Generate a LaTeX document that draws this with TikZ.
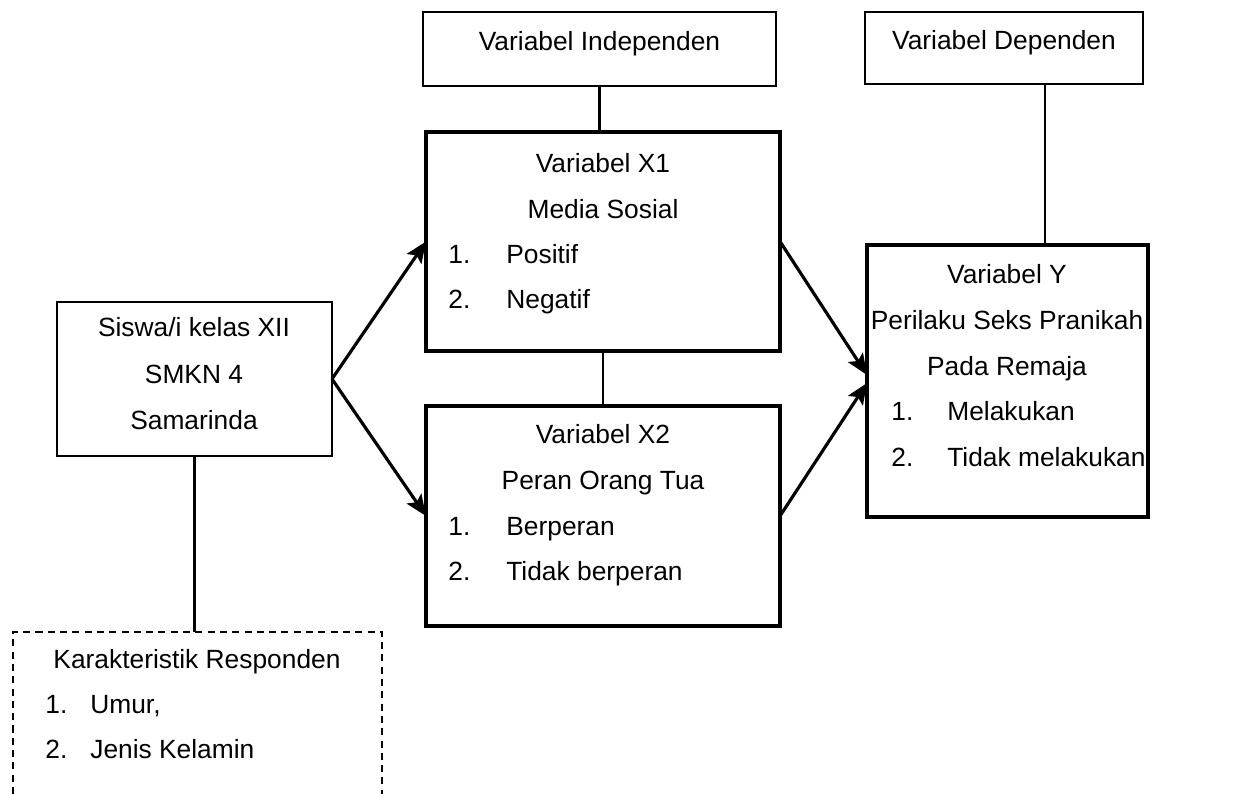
\documentclass[tikz,border=0pt]{standalone}
\usepackage{fontspec}
\setmainfont{Liberation Sans}
\usetikzlibrary{arrows.meta,fit,calc}

\tikzset{
  thinbox/.style={draw, line width=1pt, inner sep=0pt, outer sep=0pt},
  thickbox/.style={draw, line width=2.8pt, inner sep=0pt, outer sep=0pt},
  txt/.style={inner sep=0pt, anchor=base},
  item/.style={inner sep=0pt, anchor=base west},
  link/.style={line width=1.6pt},
  arr/.style={line width=1.8pt, -{Stealth[length=12pt,width=10pt,inset=2.5pt]}},
  dashbox/.style={line width=0.9pt, dash pattern=on 4pt off 3pt},
}

\begin{document}
\begin{tikzpicture}[x=0.02cm, y=-0.02cm, font=\fontsize{15pt}{18pt}\selectfont]
\useasboundingbox (0,0) rectangle (1235,794);

% Top boxes
\node[thinbox, fit={(423,12) (776,86)}] (indep) {};
\node[txt] (indepT) at (599.5,51) {Variabel Independen};
\node[thinbox, fit={(865,12) (1143,84)}] (dep) {};
\node[txt] (depT) at (1004,50) {Variabel Dependen};

% Variabel X1
\node[thickbox, fit={(426,132) (780,351)}] (x1) {};
\node[txt] (x1a) at (603,173) {Variabel X1};
\node[txt] (x1b) at (603,218) {Media Sosial};
\node[item] (x1n1) at (448,263) {1.};
\node[item] (x1i1) at (506,263) {Positif};
\node[item] (x1n2) at (448,308) {2.};
\node[item] (x1i2) at (506,308) {Negatif};

% Variabel X2
\node[thickbox, fit={(426,406) (780,626)}] (x2) {};
\node[txt] (x2a) at (603,443) {Variabel X2};
\node[txt] (x2b) at (603,489) {Peran Orang Tua};
\node[item] (x2n1) at (448,535) {1.};
\node[item] (x2i1) at (506,535) {Berperan};
\node[item] (x2n2) at (448,580) {2.};
\node[item] (x2i2) at (506,580) {Tidak berperan};

% Variabel Y
\node[thickbox, fit={(867,245) (1148,517)}] (y) {};
\node[txt] (ya) at (1007,283) {Variabel Y};
\node[txt] (yb) at (1007,329) {Perilaku Seks Pranikah};
\node[txt] (yc) at (1007,375) {Pada Remaja};
\node[item] (yn1) at (891,420) {1.};
\node[item] (yi1) at (947,420) {Melakukan};
\node[item] (yn2) at (891,466) {2.};
\node[item] (yi2) at (947,466) {Tidak melakukan};

% Responden
\node[thinbox, fit={(57,302) (332,456)}] (siswa) {};
\node[txt] (siswaA) at (194,337) {Siswa/i kelas XII};
\node[txt] (siswaB) at (194,383) {SMKN 4};
\node[txt] (siswaC) at (194,429) {Samarinda};

% Karakteristik (open at the bottom)
\node[inner sep=0pt, outer sep=0pt, fit={(13,632) (382,794)}] (kar) {};
\draw[dashbox] (kar.south west) -- (kar.north west) -- (kar.north east) -- (kar.south east);
\node[txt] (karA) at (197,668) {Karakteristik Responden};
\node[item] (karN1) at (45,713) {1.};
\node[item] (karI1) at (90,713) {Umur,};
\node[item] (karN2) at (45,758) {2.};
\node[item] (karI2) at (90,758) {Jenis Kelamin};

% Connectors
\draw[link] (indep.south) -- (indep.south |- x1.north);
\draw[link] ($(dep.south)+(41,0)$) coordinate (depLine) -- (depLine |- y.north);
\draw[link] (x1.south) -- (x2.north);
\draw[link] (siswa.south) -- (siswa.south |- kar.north);

\draw[arr] (siswa.east) -- (x1.west);
\draw[arr] (siswa.east) -- (x2.west);
\draw[arr] (x1.east) -- ($(y.west)+(0,-6)$);
\draw[arr] (x2.east) -- ($(y.west)+(0,2)$);
\end{tikzpicture}
\end{document}
